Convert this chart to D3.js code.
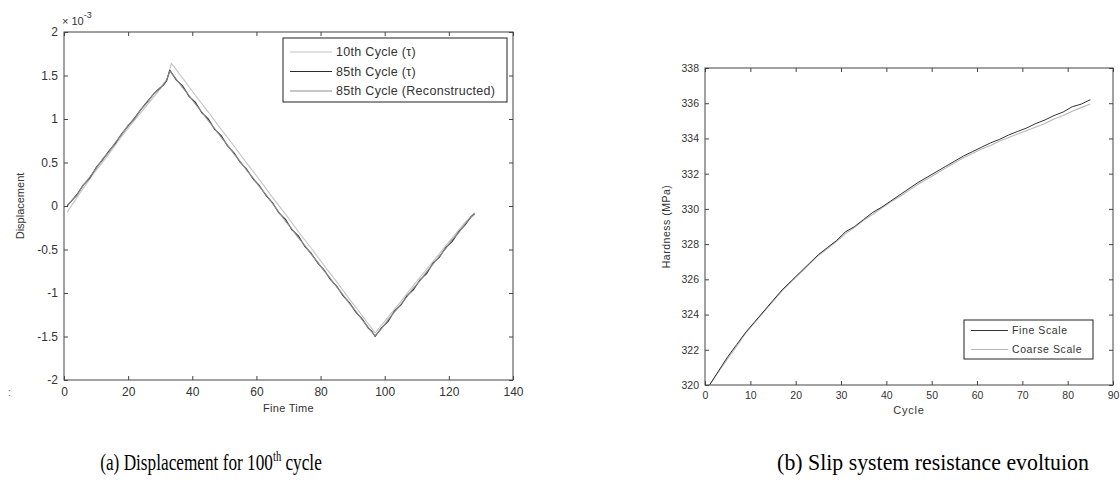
<!DOCTYPE html>
<html>
<head>
<meta charset="utf-8">
<script src="https://cdn.jsdelivr.net/npm/d3@7"></script>
<style>
body { margin: 0; background: #fff; }
</style>
</head>
<body>
<svg id="figure" width="1120" height="492"></svg>
<script>
// ---- panel (a): displacement, values in units of 1e-3 ----
var cycle10Time = [1, 5, 9, 13, 17, 21, 25, 29, 32, 33.5, 37, 41, 45, 49, 53, 57, 61, 65, 69, 73, 77, 81, 85, 89, 93, 97, 101, 105, 109, 113, 117, 121, 125, 128];
var cycle10Disp = [-0.07, 0.15, 0.36, 0.55, 0.75, 0.94, 1.12, 1.30, 1.44, 1.64, 1.47, 1.27, 1.08, 0.88, 0.69, 0.49, 0.30, 0.10, -0.09, -0.29, -0.48, -0.68, -0.87, -1.07, -1.26, -1.46, -1.28, -1.10, -0.91, -0.73, -0.55, -0.37, -0.19, -0.10];

var cycle85Time = [1, 4, 6, 8, 10, 12, 14, 16, 18, 20, 22, 24, 26, 28, 30, 31, 32, 33, 35, 37, 39, 41, 43, 45, 47, 49, 51, 53, 55, 57, 59, 61, 63, 65, 67, 69, 71, 73, 75, 77, 79, 81, 83, 85, 87, 89, 91, 93, 95, 96, 97, 99, 101, 103, 105, 107, 109, 111, 113, 115, 117, 119, 121, 123, 125, 127, 128];
var cycle85Disp = [0.00, 0.13, 0.24, 0.32, 0.44, 0.53, 0.63, 0.72, 0.83, 0.92, 1.01, 1.11, 1.20, 1.29, 1.36, 1.39, 1.44, 1.56, 1.45, 1.38, 1.26, 1.19, 1.07, 1.00, 0.88, 0.81, 0.69, 0.61, 0.50, 0.42, 0.31, 0.23, 0.12, 0.04, -0.08, -0.15, -0.27, -0.34, -0.46, -0.54, -0.65, -0.73, -0.84, -0.92, -1.03, -1.11, -1.22, -1.30, -1.41, -1.44, -1.50, -1.40, -1.33, -1.21, -1.14, -1.03, -0.96, -0.85, -0.78, -0.66, -0.59, -0.48, -0.41, -0.30, -0.22, -0.12, -0.09];
var reconDisp = [0.01, 0.12, 0.24, 0.33, 0.43, 0.54, 0.62, 0.73, 0.82, 0.93, 1.00, 1.11, 1.19, 1.29, 1.35, 1.40, 1.45, 1.55, 1.46, 1.36, 1.27, 1.17, 1.08, 0.98, 0.89, 0.79, 0.70, 0.60, 0.51, 0.41, 0.32, 0.22, 0.13, 0.03, -0.07, -0.17, -0.26, -0.36, -0.45, -0.55, -0.64, -0.74, -0.83, -0.93, -1.02, -1.12, -1.21, -1.31, -1.40, -1.45, -1.49, -1.41, -1.31, -1.22, -1.13, -1.04, -0.94, -0.86, -0.76, -0.67, -0.58, -0.49, -0.39, -0.31, -0.21, -0.12, -0.08];

var dispXTicks = [0, 20, 40, 60, 80, 100, 120, 140];
var dispYTicks = [-2, -1.5, -1, -0.5, 0, 0.5, 1, 1.5, 2];
var dispLegend = ["10th Cycle (\u03c4)", "85th Cycle (\u03c4)", "85th Cycle (Reconstructed)"];

// ---- panel (b): hardness evolution ----
var hardCycles = [1, 3, 5, 7, 9, 11, 13, 15, 17, 19, 21, 23, 25, 27, 29, 31, 33, 35, 37, 39, 41, 43, 45, 47, 49, 51, 53, 55, 57, 59, 61, 63, 65, 67, 69, 71, 73, 75, 77, 79, 81, 83, 85];
var fineHardness = [320.0, 320.8, 321.6, 322.3, 323.0, 323.6, 324.2, 324.8, 325.4, 325.9, 326.4, 326.9, 327.4, 327.8, 328.2, 328.7, 329.0, 329.4, 329.8, 330.1, 330.45, 330.8, 331.15, 331.5, 331.8, 332.1, 332.4, 332.7, 333.0, 333.25, 333.5, 333.75, 333.95, 334.2, 334.4, 334.6, 334.85, 335.05, 335.3, 335.5, 335.8, 335.95, 336.2];
var coarseHardness = [320.0, 320.75, 321.5, 322.2, 322.95, 323.55, 324.15, 324.75, 325.35, 325.85, 326.35, 326.85, 327.35, 327.75, 328.15, 328.6, 328.95, 329.35, 329.7, 330.05, 330.4, 330.7, 331.05, 331.4, 331.7, 332.0, 332.3, 332.6, 332.9, 333.15, 333.4, 333.6, 333.85, 334.05, 334.25, 334.45, 334.65, 334.85, 335.1, 335.3, 335.55, 335.75, 335.95];

var hardXTicks = [0, 10, 20, 30, 40, 50, 60, 70, 80, 90];
var hardYTicks = [320, 322, 324, 326, 328, 330, 332, 334, 336, 338];
var hardLegend = ["Fine Scale", "Coarse Scale"];

var captionA = "(a) Displacement for 100";
var captionB = "(b) Slip system resistance evoltuion";

var sansFont = "'Liberation Sans', Arial, sans-serif";
var serifFont = "'Liberation Serif', 'Times New Roman', serif";

var svg = d3.select("#figure");

// Draws a MATLAB-style boxed axes and returns its scales
function drawAxes(box, xDomain, yDomain, xTicks, yTicks, fontSize) {
    let x = d3.scaleLinear().domain(xDomain).range([box.left, box.right]);
    let y = d3.scaleLinear().domain(yDomain).range([box.bottom, box.top]);
    let g = svg.append("g");

    g.append("g")
        .attr("transform", "translate(0," + box.bottom + ")")
        .call(d3.axisBottom(x).tickValues(xTicks).tickSizeInner(-4).tickSizeOuter(0).tickPadding(7).tickFormat(d => String(d)));
    g.append("g")
        .attr("transform", "translate(0," + box.top + ")")
        .call(d3.axisTop(x).tickValues(xTicks).tickSizeInner(-4).tickSizeOuter(0).tickFormat(""));
    g.append("g")
        .attr("transform", "translate(" + box.left + ",0)")
        .call(d3.axisLeft(y).tickValues(yTicks).tickSizeInner(-4).tickSizeOuter(0).tickPadding(6).tickFormat(d => String(d)));
    g.append("g")
        .attr("transform", "translate(" + box.right + ",0)")
        .call(d3.axisRight(y).tickValues(yTicks).tickSizeInner(-4).tickSizeOuter(0).tickFormat(""));

    g.selectAll(".domain").remove();
    g.selectAll(".tick line").attr("stroke", "#444");
    g.selectAll(".tick text")
        .style("font-size", fontSize + "px")
        .style("fill", "#333")
        .style("font-family", sansFont);

    g.append("rect")
        .attr("x", box.left).attr("y", box.top)
        .attr("width", box.right - box.left).attr("height", box.bottom - box.top)
        .attr("fill", "none").attr("stroke", "#444").attr("stroke-width", 1);

    return {x: x, y: y, g: g};
}

function drawLine(ax, xs, ys, color, width) {
    let line = d3.line().x(d => ax.x(d[0])).y(d => ax.y(d[1]));
    ax.g.append("path")
        .datum(xs.map((t, i) => [t, ys[i]]))
        .attr("d", line)
        .attr("fill", "none")
        .attr("stroke", color)
        .attr("stroke-width", width)
        .attr("stroke-linejoin", "round");
}

// Plain text helper, styles go through .style so nothing overrides them
function label(x, y, txt, size, opts) {
    opts = opts || {};
    let t = svg.append("text")
        .attr("x", x).attr("y", y)
        .attr("text-anchor", opts.anchor || "start")
        .style("font-family", opts.font || sansFont)
        .style("font-size", size + "px")
        .style("fill", opts.fill || "#333")
        .style("letter-spacing", (opts.spacing || 0) + "px");
    if (opts.rotate) {
        t.attr("x", 0).attr("y", 0)
            .attr("transform", "translate(" + x + "," + y + ") rotate(-90)");
    } else if (opts.squeeze) {
        // horizontally condensed text, like the scanned caption
        t.attr("x", 0).attr("y", 0)
            .attr("transform", "translate(" + x + "," + y + ") scale(" + opts.squeeze + ",1)");
    }
    if (txt !== null) t.text(txt);
    return t;
}

function drawLegend(box, labels, colors, fontSize, rowGap) {
    let g = svg.append("g");
    g.append("rect")
        .attr("x", box.left).attr("y", box.top)
        .attr("width", box.width).attr("height", box.height)
        .attr("fill", "#fff").attr("stroke", "#222").attr("stroke-width", 1);
    labels.forEach(function(name, i) {
        let yy = box.top + box.firstRow + i * rowGap;
        g.append("line")
            .attr("x1", box.left + box.lineStart).attr("x2", box.left + box.lineEnd)
            .attr("y1", yy).attr("y2", yy)
            .attr("stroke", colors[i]).attr("stroke-width", 1.2);
        label(box.left + box.lineEnd + 4, yy + fontSize * 0.35, name, fontSize, {spacing: box.spacing});
    });
}

// ---- panel (a) ----
var boxA = {left: 64, right: 513, top: 32, bottom: 380};
var axA = drawAxes(boxA, [0, 140], [-2, 2], dispXTicks, dispYTicks, 12);
var dispColors = ["#c4c4c4", "#2b2b2b", "#8e8e8e"];
drawLine(axA, cycle10Time, cycle10Disp, dispColors[0], 1.1);
drawLine(axA, cycle85Time, cycle85Disp, dispColors[1], 1.1);
drawLine(axA, cycle85Time, reconDisp, dispColors[2], 1.1);

// exponent marker
var expo = label(62, 25, null, 11);
expo.append("tspan").text("\u00d7 10");
expo.append("tspan").attr("dy", -7).style("font-size", "9px").text("-3");

label(24, (boxA.top + boxA.bottom) / 2, "Displacement", 11, {anchor: "middle", rotate: true});
label((boxA.left + boxA.right) / 2, 412, "Fine Time", 11, {anchor: "middle", spacing: 0.3});
label(8, 396, ":", 10, {fill: "#666"});

drawLegend({left: 283, top: 38, width: 224, height: 64, firstRow: 14, lineStart: 7, lineEnd: 49, spacing: 0.3},
    dispLegend, dispColors, 12.5, 19.5);

// ---- panel (b) ----
var boxB = {left: 705, right: 1113, top: 68, bottom: 385};
var axB = drawAxes(boxB, [0, 90], [320, 338], hardXTicks, hardYTicks, 10.5);
drawLine(axB, hardCycles, coarseHardness, "#b8b8b8", 1.1);
drawLine(axB, hardCycles, fineHardness, "#333", 1);

label(670, (boxB.top + boxB.bottom) / 2, "Hardness (MPa)", 10.5, {anchor: "middle", rotate: true, spacing: 0.5});
label((boxB.left + boxB.right) / 2, 414, "Cycle", 11, {anchor: "middle", spacing: 0.8});

drawLegend({left: 964, top: 320, width: 129, height: 39, firstRow: 10.5, lineStart: 7, lineEnd: 44, spacing: 0.6},
    hardLegend, ["#333", "#b8b8b8"], 10.5, 19);

// ---- captions ----
var capA = label(211, 470, null, 23, {anchor: "middle", font: serifFont, fill: "#000", squeeze: 0.75});
capA.append("tspan").text(captionA);
capA.append("tspan").attr("dy", -9).style("font-size", "14px").text("th");
capA.append("tspan").attr("dy", 9).text(" cycle");

label(933, 470, captionB, 23, {anchor: "middle", font: serifFont, fill: "#000", squeeze: 0.95});
</script>
</body>
</html>
